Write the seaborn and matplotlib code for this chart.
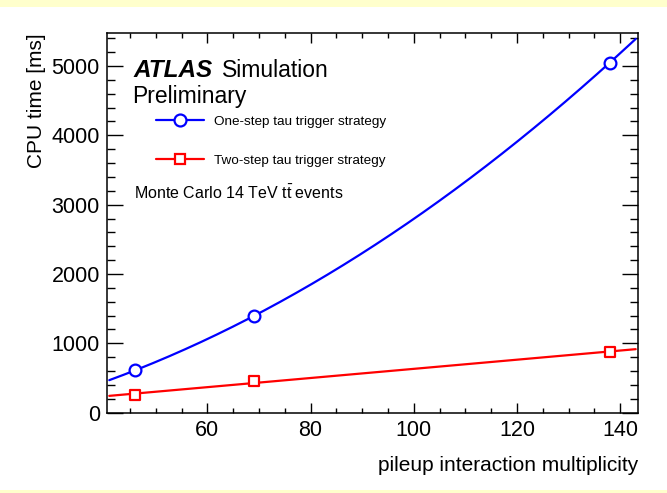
import numpy as np
import pandas as pd
import seaborn as sns
import matplotlib
matplotlib.use("Agg")
import matplotlib.pyplot as plt
from matplotlib.lines import Line2D
from matplotlib.patches import Rectangle
from matplotlib.ticker import MultipleLocator

# ---- data ----
pileup = [46, 69, 138]
one_step = [611, 1395, 5050]
two_step = [251, 461, 875]
series_labels = ["One-step tau trigger strategy", "Two-step tau trigger strategy"]
fit_range = [41.0, 143.0]
xlabel = "pileup interaction multiplicity"
ylabel = "CPU time [ms]"

sns.set_style("ticks")
plt.rcParams["font.family"] = ["Liberation Sans", "DejaVu Sans"]
plt.rcParams["mathtext.fontset"] = "custom"
plt.rcParams["mathtext.rm"] = "Liberation Sans"
plt.rcParams["mathtext.it"] = "Liberation Sans:italic"
plt.rcParams["mathtext.bf"] = "Liberation Sans:bold"
plt.rcParams["text.color"] = "black"
plt.rcParams["axes.labelcolor"] = "black"
plt.rcParams["xtick.color"] = "black"
plt.rcParams["ytick.color"] = "black"
plt.rcParams["axes.edgecolor"] = "black"

BLUE = "#0000FF"
RED = "#FF0000"

fig = plt.figure(figsize=(6.67, 4.93), dpi=100)
fig.patch.set_facecolor("white")
ax = fig.add_axes([106.7 / 667, 1 - 412.7 / 493, (638.3 - 106.7) / 667, (412.7 - 33) / 493])

# fits (quadratic for one-step, linear for two-step), evaluated over fit range
xf = np.linspace(fit_range[0], fit_range[1], 300)
c1 = np.polyfit(pileup, one_step, 2)
c2 = np.polyfit(pileup, two_step, 1)
fit_df = pd.DataFrame({
    "x": np.concatenate([xf, xf]),
    "y": np.concatenate([np.polyval(c1, xf), np.polyval(c2, xf)]),
    "s": [series_labels[0]] * len(xf) + [series_labels[1]] * len(xf),
})
pts_df = pd.DataFrame({
    "x": pileup + pileup,
    "y": one_step + two_step,
    "s": [series_labels[0]] * 3 + [series_labels[1]] * 3,
})
pal = {series_labels[0]: BLUE, series_labels[1]: RED}

sns.lineplot(data=fit_df, x="x", y="y", hue="s", palette=pal, linewidth=1.6,
             legend=False, ax=ax, sort=False, estimator=None)
sns.scatterplot(data=pts_df[pts_df.s == series_labels[0]], x="x", y="y",
                marker="o", s=72, facecolor="white", edgecolor=BLUE,
                linewidth=1.6, legend=False, ax=ax, zorder=5)
sns.scatterplot(data=pts_df[pts_df.s == series_labels[1]], x="x", y="y",
                marker="s", s=60, facecolor="white", edgecolor=RED,
                linewidth=1.6, legend=False, ax=ax, zorder=5)

ax.set_xlim(40.5, 143.5)
ax.set_ylim(0, 5476)
ax.xaxis.set_major_locator(MultipleLocator(20))
ax.xaxis.set_minor_locator(MultipleLocator(5))
ax.yaxis.set_major_locator(MultipleLocator(1000))
ax.yaxis.set_minor_locator(MultipleLocator(200))

for sp in ax.spines.values():
    sp.set_visible(True)
    sp.set_linewidth(1.1)
    sp.set_color("black")
ax.tick_params(axis="both", which="both", direction="in", top=True, right=True,
               width=1.0, labelsize=15.5, colors="black")
ax.tick_params(axis="x", which="major", length=7.5, pad=5)
ax.tick_params(axis="x", which="minor", length=3.8)
ax.tick_params(axis="y", which="major", length=11.5, pad=5)
ax.tick_params(axis="y", which="minor", length=5.8)

ax.set_xlabel(xlabel, fontsize=15, ha="right", x=1.0, labelpad=11, color="black")
ax.set_ylabel(ylabel, fontsize=15, ha="right", y=1.0, labelpad=4, color="black")

# legend
handles = [
    Line2D([], [], color=BLUE, lw=1.6, marker="o", markersize=8.6,
           markerfacecolor="white", markeredgecolor=BLUE, markeredgewidth=1.6),
    Line2D([], [], color=RED, lw=1.6, marker="s", markersize=7.8,
           markerfacecolor="white", markeredgecolor=RED, markeredgewidth=1.6),
]
leg = ax.legend(handles, series_labels, loc="upper left", frameon=False,
                fontsize=9.7, handlelength=3.5, handletextpad=0.75,
                labelspacing=1.95, borderaxespad=0,
                bbox_to_anchor=((151 - 106.7) / 531.6, (412.7 - 110) / 379.7))

# ATLAS label
fig.text(133.5 / 667, 1 - 77.3 / 493, "ATLAS", fontsize=17.5,
         fontweight="bold", style="italic", va="baseline", ha="left")
fig.text(221.7 / 667, 1 - 77.3 / 493, "Simulation", fontsize=16.5, va="baseline", ha="left")
fig.text(131.7 / 667, 1 - 103.3 / 493, "Preliminary", fontsize=16.5, va="baseline", ha="left")
fig.text(134.3 / 667, 1 - 199 / 493, r"Monte Carlo 14 TeV t$\bar{\mathrm{t}}$ events",
         fontsize=11.5, va="baseline", ha="left")

# pale yellow frame bands
fig.patches.append(Rectangle((0, 1 - 7 / 493), 1, 7 / 493, transform=fig.transFigure,
                             facecolor="#FFFFCC", edgecolor="none", zorder=0))
fig.patches.append(Rectangle((0, 0), 1, 3 / 493, transform=fig.transFigure,
                             facecolor="#FFFFCC", edgecolor="none", zorder=0))

fig.savefig("out.png", dpi=100, facecolor=fig.get_facecolor())
